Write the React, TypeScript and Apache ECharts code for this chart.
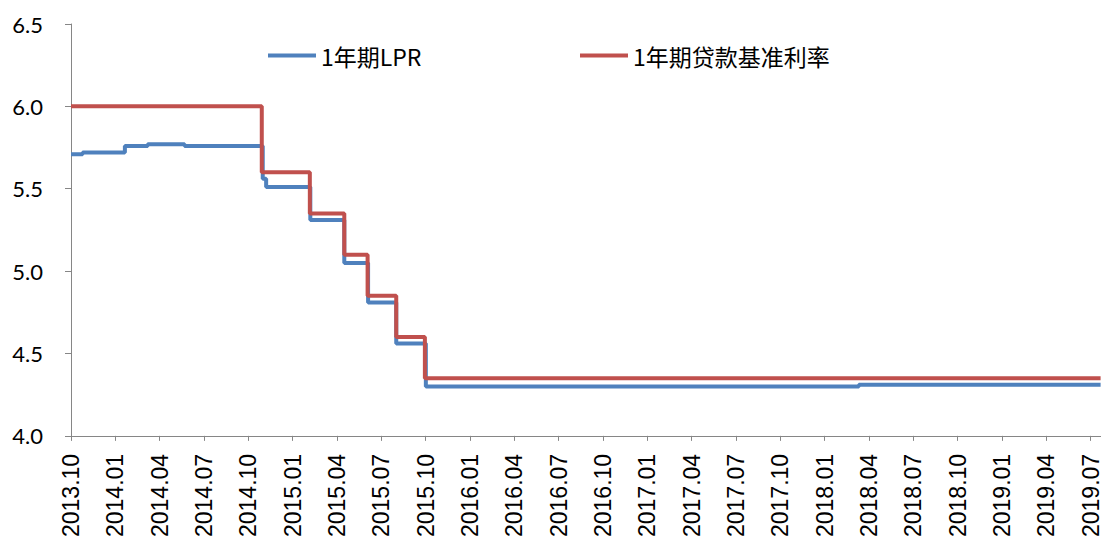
import React, { useEffect, useRef } from "react";
import * as echarts from "echarts";

const START = "2013-10-25";
const END = "2019-08-16";

const lprDates = [
  "2013-10-25", "2013-11-18", "2014-02-13", "2014-04-01", "2014-06-16",
  "2014-11-24", "2014-12-01", "2015-03-02", "2015-05-11", "2015-06-29",
  "2015-08-26", "2015-10-26", "2018-04-05", "2019-08-16",
];
const lprValues = [
  5.71, 5.72, 5.76, 5.77, 5.76,
  5.56, 5.51, 5.31, 5.05, 4.81,
  4.56, 4.30, 4.31, 4.31,
];

const baseDates = [
  "2013-10-25", "2014-11-22", "2015-03-01", "2015-05-11",
  "2015-06-28", "2015-08-26", "2015-10-24", "2019-08-16",
];
const baseValues = [6.0, 5.6, 5.35, 5.1, 4.85, 4.6, 4.35, 4.35];

const tickMonths = Array.from({ length: 24 }, (_, i) => i * 3);
const yTicks = [4.0, 4.5, 5.0, 5.5, 6.0, 6.5];

const seriesNames = ["1年期LPR", "1年期贷款基准利率"];

function monthsSinceStart(d: string): number {
  const days = (Date.parse(d) - Date.parse(START)) / 86400000;
  return days / (365.25 / 12);
}

function monthLabel(v: number): string {
  const total = 9 + Math.round(v);
  const year = 2013 + Math.floor(total / 12);
  const month = (total % 12) + 1;
  return `${year}.${month < 10 ? "0" + month : month}`;
}

export default function App() {
  const ref = useRef<HTMLDivElement>(null);
  useEffect(() => {
    document.body.style.margin = "0";
    if (!ref.current) return;
    const chart = echarts.init(ref.current, undefined, { renderer: "svg" });
    const lprData = lprDates.map((d, i) => [monthsSinceStart(d), lprValues[i]]);
    const baseData = baseDates.map((d, i) => [monthsSinceStart(d), baseValues[i]]);
    const legendText = {
      fontSize: 23,
      fontFamily: '"Noto Sans CJK SC", "Noto Sans", sans-serif',
      color: "#000",
    };
    chart.setOption({
      animation: false,
      backgroundColor: "#fff",
      grid: { left: 71, right: 1, top: 24, bottom: 104, containLabel: false },
      legend: [
        {
          data: [seriesNames[0]],
          left: 268,
          top: 44,
          padding: 0,
          icon: "rect",
          itemWidth: 48,
          itemHeight: 4,
          textStyle: legendText,
        },
        {
          data: [seriesNames[1]],
          left: 580,
          top: 44,
          padding: 0,
          icon: "rect",
          itemWidth: 48,
          itemHeight: 4,
          textStyle: legendText,
        },
      ],
      xAxis: {
        type: "value",
        min: 0,
        max: monthsSinceStart(END),
        splitLine: { show: false },
        axisLine: { show: true, lineStyle: { color: "#868686", width: 1 } },
        axisTick: {
          show: true,
          length: 5,
          customValues: tickMonths,
          lineStyle: { color: "#868686" },
        },
        axisLabel: {
          customValues: tickMonths,
          rotate: 90,
          margin: 18,
          fontSize: 23,
          fontFamily: '"Liberation Sans", Arial, sans-serif',
          color: "#000",
          formatter: (v: number) => monthLabel(v),
        },
      },
      yAxis: {
        type: "value",
        min: 4,
        max: 6.5,
        interval: 0.5,
        splitLine: { show: false },
        axisLine: { show: true, lineStyle: { color: "#868686", width: 1 } },
        axisTick: { show: true, length: 6, lineStyle: { color: "#868686" } },
        axisLabel: {
          margin: 28,
          fontSize: 22,
          fontFamily: "Lato, sans-serif",
          color: "#000",
          customValues: yTicks,
          formatter: (v: number) => v.toFixed(1),
        },
      },
      series: [
        {
          name: seriesNames[0],
          type: "line",
          step: "end",
          data: lprData,
          showSymbol: false,
          symbol: "none",
          lineStyle: { color: "#4F81BD", width: 4 },
          itemStyle: { color: "#4F81BD" },
          z: 2,
        },
        {
          name: seriesNames[1],
          type: "line",
          step: "end",
          data: baseData,
          showSymbol: false,
          symbol: "none",
          lineStyle: { color: "#C0504D", width: 4 },
          itemStyle: { color: "#C0504D" },
          z: 3,
        },
      ],
    });
    return () => chart.dispose();
  }, []);
  return <div ref={ref} style={{ width: 1102, height: 540 }} />;
}
